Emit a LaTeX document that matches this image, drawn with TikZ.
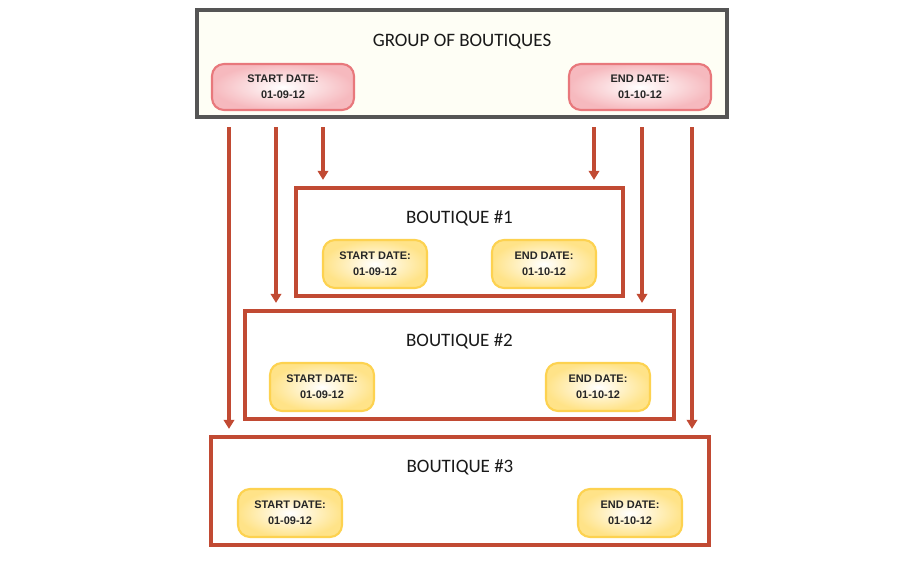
\documentclass[tikz,border=0pt]{standalone}
\usepackage{fontspec}
\setmainfont{Carlito}
\newfontfamily\datefont{Liberation Sans}
\usepackage{tikz}
\usetikzlibrary{arrows.meta,positioning,shadows}
\definecolor{Slate}{HTML}{555555}
\definecolor{Ivory}{HTML}{FEFEF5}
\definecolor{Brick}{HTML}{C14A33}
\definecolor{RoseLine}{HTML}{E8787C}
\definecolor{RoseFill}{HTML}{F6B9BE}
\definecolor{GoldLine}{HTML}{FDD250}
\definecolor{GoldFill}{HTML}{FFE388}

\begin{document}
\begin{tikzpicture}[x=0.025cm, y=-0.025cm, >={Triangle[width=7.5pt,length=6.5pt]}]
\tikzset{groupbox/.style={draw=Slate, line width=2.4pt, fill=Ivory, minimum width=13.25cm, minimum height=2.675cm, drop shadow={shadow xshift=1.5pt, shadow yshift=-1.5pt, opacity=.25}}, shopbox/.style={draw=Brick, line width=2.4pt, fill=white, minimum height=2.7cm, drop shadow={shadow xshift=1.5pt, shadow yshift=-1.5pt, opacity=.2}}, title/.style={font=\fontsize{13.5}{15}\selectfont, text=black!90}, pill/.style={rounded corners=.3cm, line width=1.5pt, align=center, inner color=white, font=\datefont\bfseries\fontsize{7.8}{11.2}\selectfont, text=black!85}, pinkpill/.style={pill, draw=RoseLine, outer color=RoseFill, minimum width=3.55cm, minimum height=1.15cm}, goldpill/.style={pill, draw=GoldLine, outer color=GoldFill, minimum width=2.6cm, minimum height=1.2cm}, flow/.style={->, draw=Brick, line width=2.3pt, shorten >=1.6mm}}
\useasboundingbox (0,0) rectangle (920,560);
% top box
\node[groupbox] (group) at (462,63.5) {};
\node[title] (grouptitle) at (462,42) {GROUP OF BOUTIQUES};
\node[pinkpill] (gstart) at (283,87) {START DATE:\\01-09-12};
\node[pinkpill] (gend) at (640,87) {END DATE:\\01-10-12};
% boutiques
\foreach \name/\x/\y/\w/\sx/\ex/\num in {b1/459.5/242/8.175/375/544/1, b2/459.5/365/10.725/322/598/2, b3/460/491/12.45/290/630/3} {
  \node[shopbox, minimum width=\w cm] (\name) at (\x,\y) {};
  \node[title] (\name title) at (\x,\y-24) {BOUTIQUE \#\num};
  \node[goldpill] (\name start) at (\sx,\y+22) {START DATE:\\01-09-12};
  \node[goldpill] (\name end) at (\ex,\y+22) {END DATE:\\01-10-12};
}
% arrows
\foreach \name/\x/\target in {a1/229/b3, a2/276/b2, a3/323/b1, a4/594/b1, a5/642/b2, a6/692/b3} {
  \coordinate (\name) at (\x,127);
  \draw[flow] (\name) -- (\name |- \target.north);
}
\end{tikzpicture}
\end{document}
